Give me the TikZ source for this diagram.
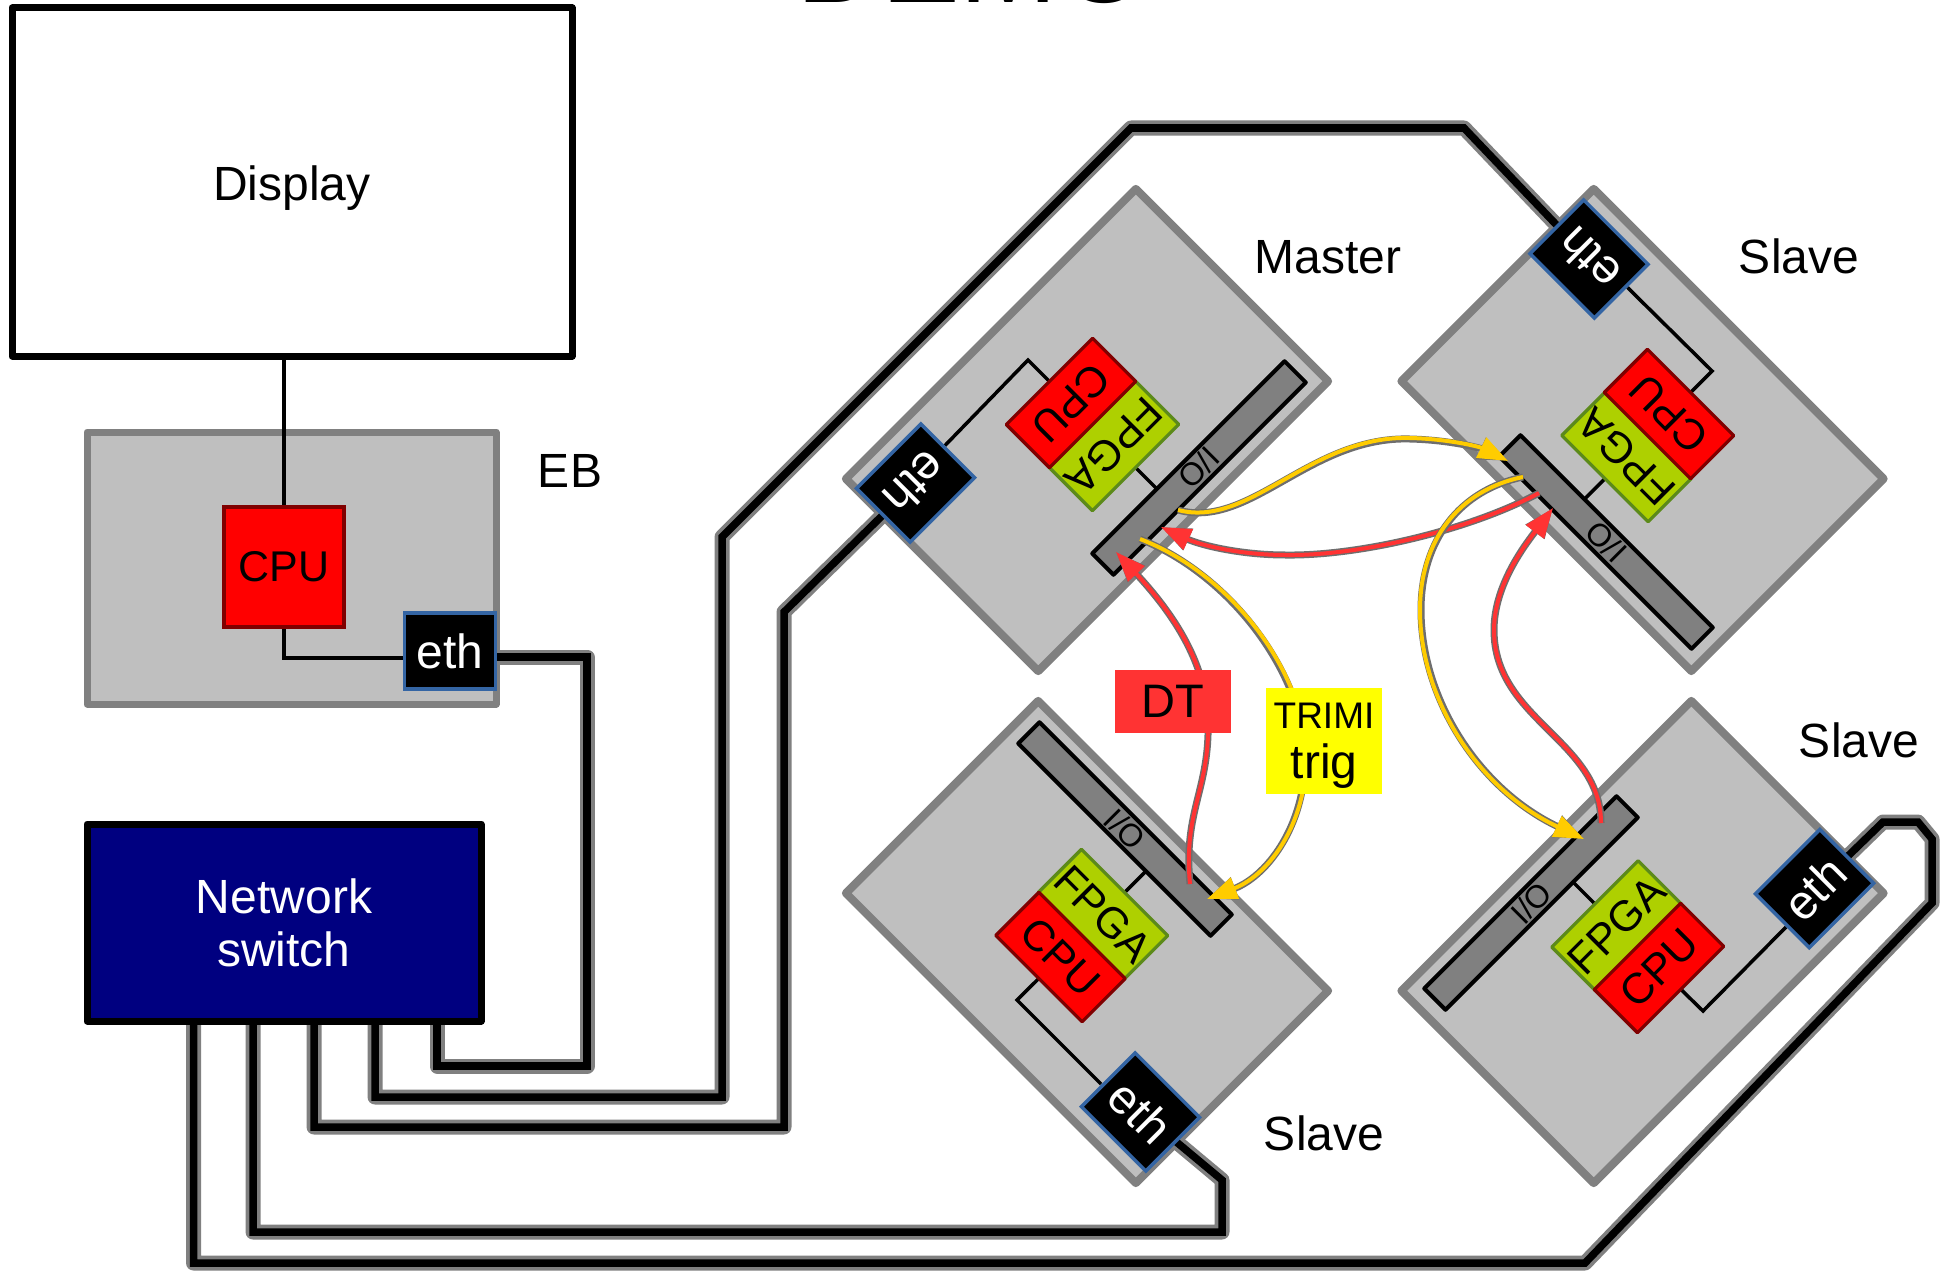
\documentclass[tikz,border=0pt]{standalone}
\usepackage{fontspec}
\setmainfont{Liberation Sans}
\usetikzlibrary{arrows.meta,calc}
\pgfdeclarelayer{boards}
\pgfdeclarelayer{wires}
\pgfsetlayers{boards,wires,main}
\definecolor{boardfill}{HTML}{BFBFBF}
\definecolor{boardline}{HTML}{808080}
\definecolor{fpgafill}{HTML}{AED000}
\definecolor{fpgaline}{HTML}{5C8A1A}
\definecolor{cpuline}{HTML}{800000}
\definecolor{ethline}{HTML}{3465A4}
\definecolor{sigred}{HTML}{FF3333}
\definecolor{sigyellow}{HTML}{FFCC00}
\definecolor{siggray}{HTML}{6E6E6E}
\definecolor{swnavy}{HTML}{000080}
\definecolor{tagyellow}{HTML}{FFFF00}
\newcommand{\fsz}[1]{\fontsize{#1}{#1}\selectfont}
\newcommand{\sigpath}[3]{%
  \draw[sigbase] #3;
  \draw[sigtop,draw=#1,-{Triangle[length=30pt,width=22pt,fill=#1]},shift={#2}] #3;}
\tikzset{
  board/.style={draw=boardline,fill=boardfill,line width=8pt,line join=round,minimum width=410pt,minimum height=272pt,inner sep=0pt},
  ebboard/.style={draw=boardline,fill=boardfill,line width=7pt,line join=round,minimum width=409pt,minimum height=272pt,inner sep=0pt},
  cpubox/.style={draw=cpuline,fill=red,line width=3.2pt,line join=round,minimum width=122pt,minimum height=61pt,inner sep=0pt,font=\fsz{43}},
  cpuebbox/.style={draw=cpuline,fill=red,line width=3.2pt,minimum width=120pt,minimum height=120pt,inner sep=0pt,font=\fsz{43}},
  fpgabox/.style={draw=fpgaline,fill=fpgafill,line width=3.2pt,line join=round,minimum width=122pt,minimum height=61pt,inner sep=0pt,font=\fsz{43}},
  ethbox/.style={draw=ethline,fill=black,text=white,line width=3.5pt,minimum width=91pt,minimum height=76pt,inner sep=0pt,font=\fsz{48}},
  iobar/.style={draw=black,fill=boardline,line width=4pt,line join=round,minimum width=272pt,minimum height=30pt,inner sep=0pt,font=\fsz{32}},
  lbl/.style={inner sep=0pt,font=\fsz{48}},
  thin/.style={draw=black,line width=3.5pt},
  ethwire/.style={preaction={draw,line width=15pt,color=boardline,line join=round},draw=black,line width=7.5pt,line join=miter},
  sigbase/.style={draw=siggray,line width=7pt,-{Triangle[length=30pt,width=22pt,fill=siggray]}},
  sigtop/.style={line width=4pt},
  tagbox/.style={inner sep=0pt,align=center,text=black}
}
\begin{document}
\begin{tikzpicture}[x=1pt,y=-1pt]
\useasboundingbox (0,0) rectangle (1950,1271);

% cropped title
\begin{scope}
\clip (0,0) rectangle (1950,20);
\node[anchor=base,inner sep=0pt,font=\fsz{118}] (title) at (973,3) {DEMO};
\end{scope}

% boards
\begin{pgfonlayer}{boards}
\node[board,rotate=225] (bM) at (1087,430) {};
\node[board,rotate=135] (bTR) at (1642.5,430) {};
\node[board,rotate=-45] (bBL) at (1087,942) {};
\node[board,rotate=45] (bBR) at (1642.5,942) {};
\node[ebboard] (bEB) at (291.5,568) {};
\end{pgfonlayer}

% boxes
\node[draw=black,line width=7pt,line join=round,minimum width=560pt,minimum height=348pt,inner sep=0pt,font=\fsz{48}] (disp) at (292,182) {\raisebox{-18.5pt}[0pt][0pt]{Display}};
\node[draw=black,fill=swnavy,text=white,line width=7pt,line join=round,minimum width=394pt,minimum height=197pt,inner sep=0pt,align=center,font=\fsz{48}] (sw) at (284,922.5) {Network\\[5pt]switch};

\node[cpuebbox] (cpuEB) at (284,567) {CPU};
\node[ethbox] (ethEB) at (450,651) {eth};

% Master
\node[ethbox,rotate=225] (ethM) at (915.5,483) {eth};
\node[fpgabox,rotate=225] (fpgaM) at (1114,446) {FPGA};
\node[cpubox,rotate=225] (cpuM) at (1071,403) {CPU};
\node[iobar,rotate=225] (ioM) at (1199,468) {I/O};
% top right
\node[ethbox,rotate=135] (ethTR) at (1589,259) {eth};
\node[fpgabox,rotate=135] (fpgaTR) at (1626.5,457) {FPGA};
\node[cpubox,rotate=135] (cpuTR) at (1669,414) {CPU};
\node[iobar,rotate=135] (ioTR) at (1606,542) {I/O};
% bottom left
\node[ethbox,rotate=-45] (ethBL) at (1140.5,1112) {eth};
\node[fpgabox,rotate=-45] (fpgaBL) at (1103,914) {FPGA};
\node[cpubox,rotate=-45] (cpuBL) at (1060.5,957) {CPU};
\node[iobar,rotate=-45] (ioBL) at (1125,829) {I/O};
% bottom right
\node[ethbox,rotate=45] (ethBR) at (1814.5,888.5) {eth};
\node[fpgabox,rotate=45] (fpgaBR) at (1616.5,925.5) {FPGA};
\node[cpubox,rotate=45] (cpuBR) at (1659,968) {CPU};
\node[iobar,rotate=45] (ioBR) at (1531,903) {I/O};

% board captions
\node[lbl] (lEB) at (570,471) {EB};
\node[lbl] (lM) at (1328,257) {Master};
\node[lbl] (lTR) at (1799,256) {Slave};
\node[lbl] (lBR) at (1859,740) {Slave};
\node[lbl] (lBL) at (1324,1133) {Slave};

% switch ports
\coordinate (swA) at (437,1015);
\coordinate (swB) at (375,1015);
\coordinate (swC) at (314,1015);
\coordinate (swD) at (253,1015);
\coordinate (swE) at (193.5,1015);

\begin{pgfonlayer}{wires}
% network cables
\draw[ethwire] (swE) -- (193.5,1263) -- (1585,1263) -- (1932,903) -- (1932,839) -- (1918,822) -- (1883,822) -- (ethBR.center);
\draw[ethwire] (swD) -- (253,1232) -- (1222,1232) -- (1222,1180) -- (ethBL.center);
\draw[ethwire] (swC) -- (314,1127) -- (784,1127) -- (784,612) -- (ethM.center);
\draw[ethwire] (swB) -- (375,1097) -- (722,1097) -- (722,537) -- (1131,128) -- (1464,128) -- (ethTR.center);
\draw[ethwire] (swA) -- (437,1066) -- (587,1066) -- (587,657) -- ([yshift=-6pt]ethEB.center);
% thin links
\draw[thin] (disp.south -| cpuEB.center) -- (cpuEB.north);
\draw[thin] (cpuEB.south) |- ([yshift=-7pt]ethEB.west);
\draw[thin] ([xshift=-4pt,yshift=4pt]ethM.west) -- (1028,360) -- (cpuM.center);
\draw[thin] (fpgaM.center) -- ($(ioM.west)!(fpgaM.center)!(ioM.east)$);
\draw[thin] ([xshift=5pt,yshift=5pt]ethTR.west) -- (1712,371) -- (cpuTR.center);
\draw[thin] (fpgaTR.center) -- ($(ioTR.west)!(fpgaTR.center)!(ioTR.east)$);
\draw[thin] ([xshift=-6pt,yshift=-5.5pt]ethBL.west) -- (1017,1000) -- (cpuBL.center);
\draw[thin] (fpgaBL.center) -- ($(ioBL.west)!(fpgaBL.center)!(ioBL.east)$);
\draw[thin] ([xshift=5pt,yshift=-5pt]ethBR.west) -- (1703,1011) -- (cpuBR.center);
\draw[thin] (fpgaBR.center) -- ($(ioBR.west)!(fpgaBR.center)!(ioBR.east)$);
\end{pgfonlayer}

% signal end points on the I/O bars
\coordinate (yMo) at (1178,510);
\coordinate (yTRi) at (1508,461);
\coordinate (rTRo) at (1539,493);
\coordinate (rMi) at (1161,527);
\coordinate (yTRo) at (1523,477);
\coordinate (yBRi) at (1584,839);
\coordinate (rBRo) at (1601,823);
\coordinate (rTRi) at (1553,508);
\coordinate (yMo2) at (1140,539);
\coordinate (yBLi) at (1207,899);
\coordinate (rBLo) at (1190,884);
\coordinate (rMi2) at (1116,552);

\sigpath{sigyellow}{(0,-1)}{(yMo) .. controls (1250,530) and (1310,436) .. (1410,439) .. controls (1450,440) and (1480,448) .. (yTRi)}
\sigpath{sigred}{(0,0)}{(rTRo) .. controls (1470,530) and (1360,556) .. (1286,555) .. controls (1240,555) and (1200,545) .. (rMi)}
\sigpath{sigyellow}{(-1,0)}{(yTRo) .. controls (1460,490) and (1421,540) .. (1421,610) .. controls (1421,700) and (1480,790) .. (yBRi)}
\sigpath{sigred}{(0,0)}{(rBRo) .. controls (1601,740) and (1494,720) .. (1494,630) .. controls (1494,585) and (1525,545) .. (rTRi)}
\sigpath{sigyellow}{(1,-1)}{(yMo2) .. controls (1230,575) and (1300,670) .. (1305,750) .. controls (1308,820) and (1270,875) .. (yBLi)}
\sigpath{sigred}{(0,0)}{(rBLo) .. controls (1183,810) and (1210,790) .. (1208,720) .. controls (1206,660) and (1170,610) .. (rMi2)}

% signal tags
\node[tagbox,fill=sigred,minimum width=115.5pt,minimum height=63pt,font=\fsz{47}] (tagDT) at (1173,701.5) {DT};
\node[tagbox,fill=tagyellow,minimum width=115.5pt,minimum height=106pt] (tagTrig) at (1324,741) {};
\node[tagbox] (tagTrigText) at (1324,745.5) {\fsz{37}TRIMI\\[14pt]{\fsz{48}trig}};
\end{tikzpicture}
\end{document}
